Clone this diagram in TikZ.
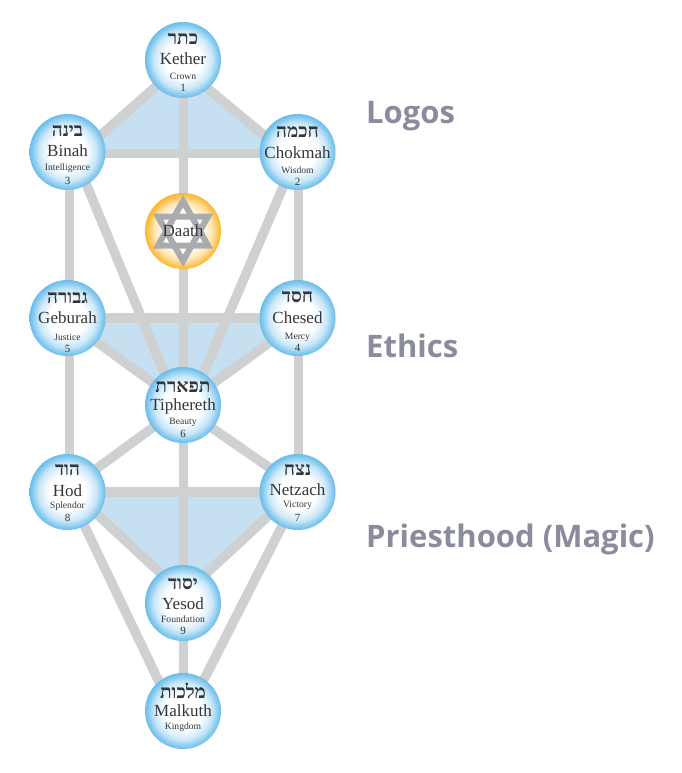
\documentclass[tikz,border=0pt]{standalone}
\usepackage{fontspec}
\setmainfont{Liberation Serif}
\newfontfamily\hebfont[Script=Hebrew]{Liberation Serif}
\newfontfamily\headfont{Open Sans}
\usetikzlibrary{backgrounds,calc}
\TeXXeTstate=1
\definecolor{pathgrey}{HTML}{CFD0D2}
\definecolor{triblue}{HTML}{C6DFF1}
\definecolor{rimblue}{HTML}{69BDEB}
\definecolor{rimgold}{HTML}{FBB72C}
\definecolor{stargrey}{HTML}{A9ABAE}
\definecolor{inkdark}{HTML}{333538}
\definecolor{headgrey}{HTML}{8A8C9E}
\pgfdeclareradialshading{sphereblue}{\pgfpointorigin}{color(0bp)=(white);color(12bp)=(white);color(19bp)=(rimblue!35);color(23bp)=(rimblue!80);color(25bp)=(rimblue);color(50bp)=(rimblue)}
\pgfdeclareradialshading{spheregold}{\pgfpointorigin}{color(0bp)=(white);color(12bp)=(white);color(19bp)=(rimgold!35);color(23bp)=(rimgold!80);color(25bp)=(rimgold);color(50bp)=(rimgold)}
\tikzset{
  x=1pt,y=-1pt,
  sphere/.style={circle,minimum size=76pt,inner sep=0pt,shading=sphereblue},
  goldsphere/.style={circle,minimum size=76pt,inner sep=0pt,shading=spheregold},
  pathway/.style={draw=pathgrey,line width=9.5pt},
  triad/.style={fill=triblue,draw=none},
  hebtext/.style={text=inkdark,inner sep=0pt,font=\hebfont\bfseries\fontsize{19}{20}\selectfont},
  nametext/.style={text=inkdark,inner sep=0pt,font=\fontsize{17}{18}\selectfont},
  subtext/.style={text=inkdark,inner sep=0pt,font=\fontsize{9.6}{10}\selectfont},
  numtext/.style={text=inkdark,inner sep=0pt,font=\fontsize{11}{12}\selectfont},
  headtext/.style={text=headgrey,inner sep=0pt,anchor=base west,font=\headfont\bfseries\fontsize{31}{33}\selectfont},
}
\newcommand{\sefnode}[9]{%
  \node[sphere] (#1) at (#2,#3) {};
  \node[hebtext] (#1heb) at (#2,#4) {\beginR #5\endR};
  \node[nametext] (#1name) at (#2,#6) {#7};
  \node[subtext] (#1sub) at (#2,#8) {#9};
}
% pathway from node #1 shifted by (#2) to node #3 shifted by (#4)
\newcommand{\pathlink}[4]{\draw[pathway] ($(#1.center)+(#2)$) -- ($(#3.center)+(#4)$);}
\begin{document}
\begin{tikzpicture}
\useasboundingbox (0,0) rectangle (682,773);
\sefnode{kether}{183}{60}{39}{כתר}{59}{Kether}{76}{Crown}
\sefnode{chokmah}{297.5}{152}{132}{חכמה}{152.5}{Chokmah}{170}{Wisdom}
\sefnode{binah}{67.5}{152}{131}{בינה}{150.5}{Binah}{168}{Intelligence}
\node[goldsphere] (daath) at (183,231) {};
\sefnode{chesed}{297.5}{318}{297}{חסד}{318}{Chesed}{337}{Mercy}
\sefnode{geburah}{67.5}{318}{298}{גבורה}{318}{Geburah}{337}{Justice}
\sefnode{tiphereth}{183}{405}{387}{תפארת}{406.5}{Tiphereth}{422}{Beauty}
\sefnode{netzach}{297.5}{492}{470}{נצח}{490}{Netzach}{505}{Victory}
\sefnode{hod}{67.5}{492}{470}{הוד}{491}{Hod}{506}{Splendor}
\sefnode{yesod}{183}{603}{584}{יסוד}{604}{Yesod}{619}{Foundation}
\sefnode{malkuth}{183}{711}{691}{מלכות}{711}{Malkuth}{727}{Kingdom}
% numbers
\node[numtext] (n1) at (183,88) {1};
\node[numtext] (n2) at (297.5,182) {2};
\node[numtext] (n3) at (67.5,181) {3};
\node[numtext] (n4) at (297.5,348) {4};
\node[numtext] (n5) at (67.5,349) {5};
\node[numtext] (n6) at (183,434) {6};
\node[numtext] (n7) at (297.5,518) {7};
\node[numtext] (n8) at (67.5,518) {8};
\node[numtext] (n9) at (183,631) {9};
% star of David
\coordinate (s1) at (183,201);
\coordinate (s2) at (208,245.5);
\coordinate (s3) at (158,245.5);
\coordinate (s4) at (183,261);
\coordinate (s5) at (158,216.5);
\coordinate (s6) at (208,216.5);
\draw[stargrey,line width=6pt,miter limit=10] (s1) -- (s2) -- (s3) -- cycle;
\draw[stargrey,line width=6pt,miter limit=10] (s4) -- (s5) -- (s6) -- cycle;
\node[nametext] (daathname) at (183,231) {Daath};
% headings
\node[headtext] (logos) at (366,123.5) {Logos};
\node[headtext] (ethics) at (366,357) {Ethics};
\node[headtext] (priest) at (366,547) {Priesthood (Magic)};
\begin{scope}[on background layer]
\fill[white] (0,0) rectangle (682,773);
\fill[triad] ($(binah.center)+(13,1)$) -- ($(kether.center)+(0,5)$) -- ($(chokmah.center)+(-12,1)$) -- cycle;
\fill[triad] ($(geburah.center)+(0,2.6)$) -- ($(chesed.center)+(0,4.3)$) -- (tiphereth.center) -- cycle;
\fill[triad] ($(hod.center)+(0,-5)$) -- ($(netzach.center)+(0,-3)$) -- ($(yesod.center)+(0,-9)$) -- cycle;
\pathlink{kether}{0,8}{chokmah}{0,11}
\pathlink{kether}{0,2.5}{binah}{0,12.5}
\pathlink{binah}{0,1.3}{chokmah}{0,1.3}
\pathlink{kether}{0.3,0}{daath}{0.3,0}
\pathlink{daath}{0.3,0}{tiphereth}{0.3,0}
\pathlink{binah}{2,0}{geburah}{2,0}
\pathlink{geburah}{2,0}{hod}{2,0}
\pathlink{chokmah}{0.8,0}{chesed}{0.8,0}
\pathlink{chesed}{0.8,0}{netzach}{0.8,0}
\pathlink{binah}{5.5,0}{tiphereth}{-5.5,0}
\pathlink{chokmah}{0.5,0}{tiphereth}{7,0}
\pathlink{geburah}{0,0}{chesed}{0,0}
\pathlink{geburah}{0,2.6}{tiphereth}{0,-0.3}
\pathlink{chesed}{0,4.3}{tiphereth}{0,0.3}
\pathlink{tiphereth}{0,0.4}{hod}{0,-2}
\pathlink{tiphereth}{0,3}{netzach}{0,-5}
\pathlink{tiphereth}{0.3,0}{yesod}{0.3,0}
\pathlink{hod}{0,0}{netzach}{0,0}
\pathlink{hod}{0,-5}{yesod}{0,-9}
\pathlink{netzach}{0,-3}{yesod}{0,-8}
\pathlink{hod}{0.8,0}{malkuth}{-10,0}
\pathlink{netzach}{1.9,0}{malkuth}{5,0}
\pathlink{yesod}{0.5,0}{malkuth}{0.5,0}
\end{scope}
\end{tikzpicture}
\end{document}
